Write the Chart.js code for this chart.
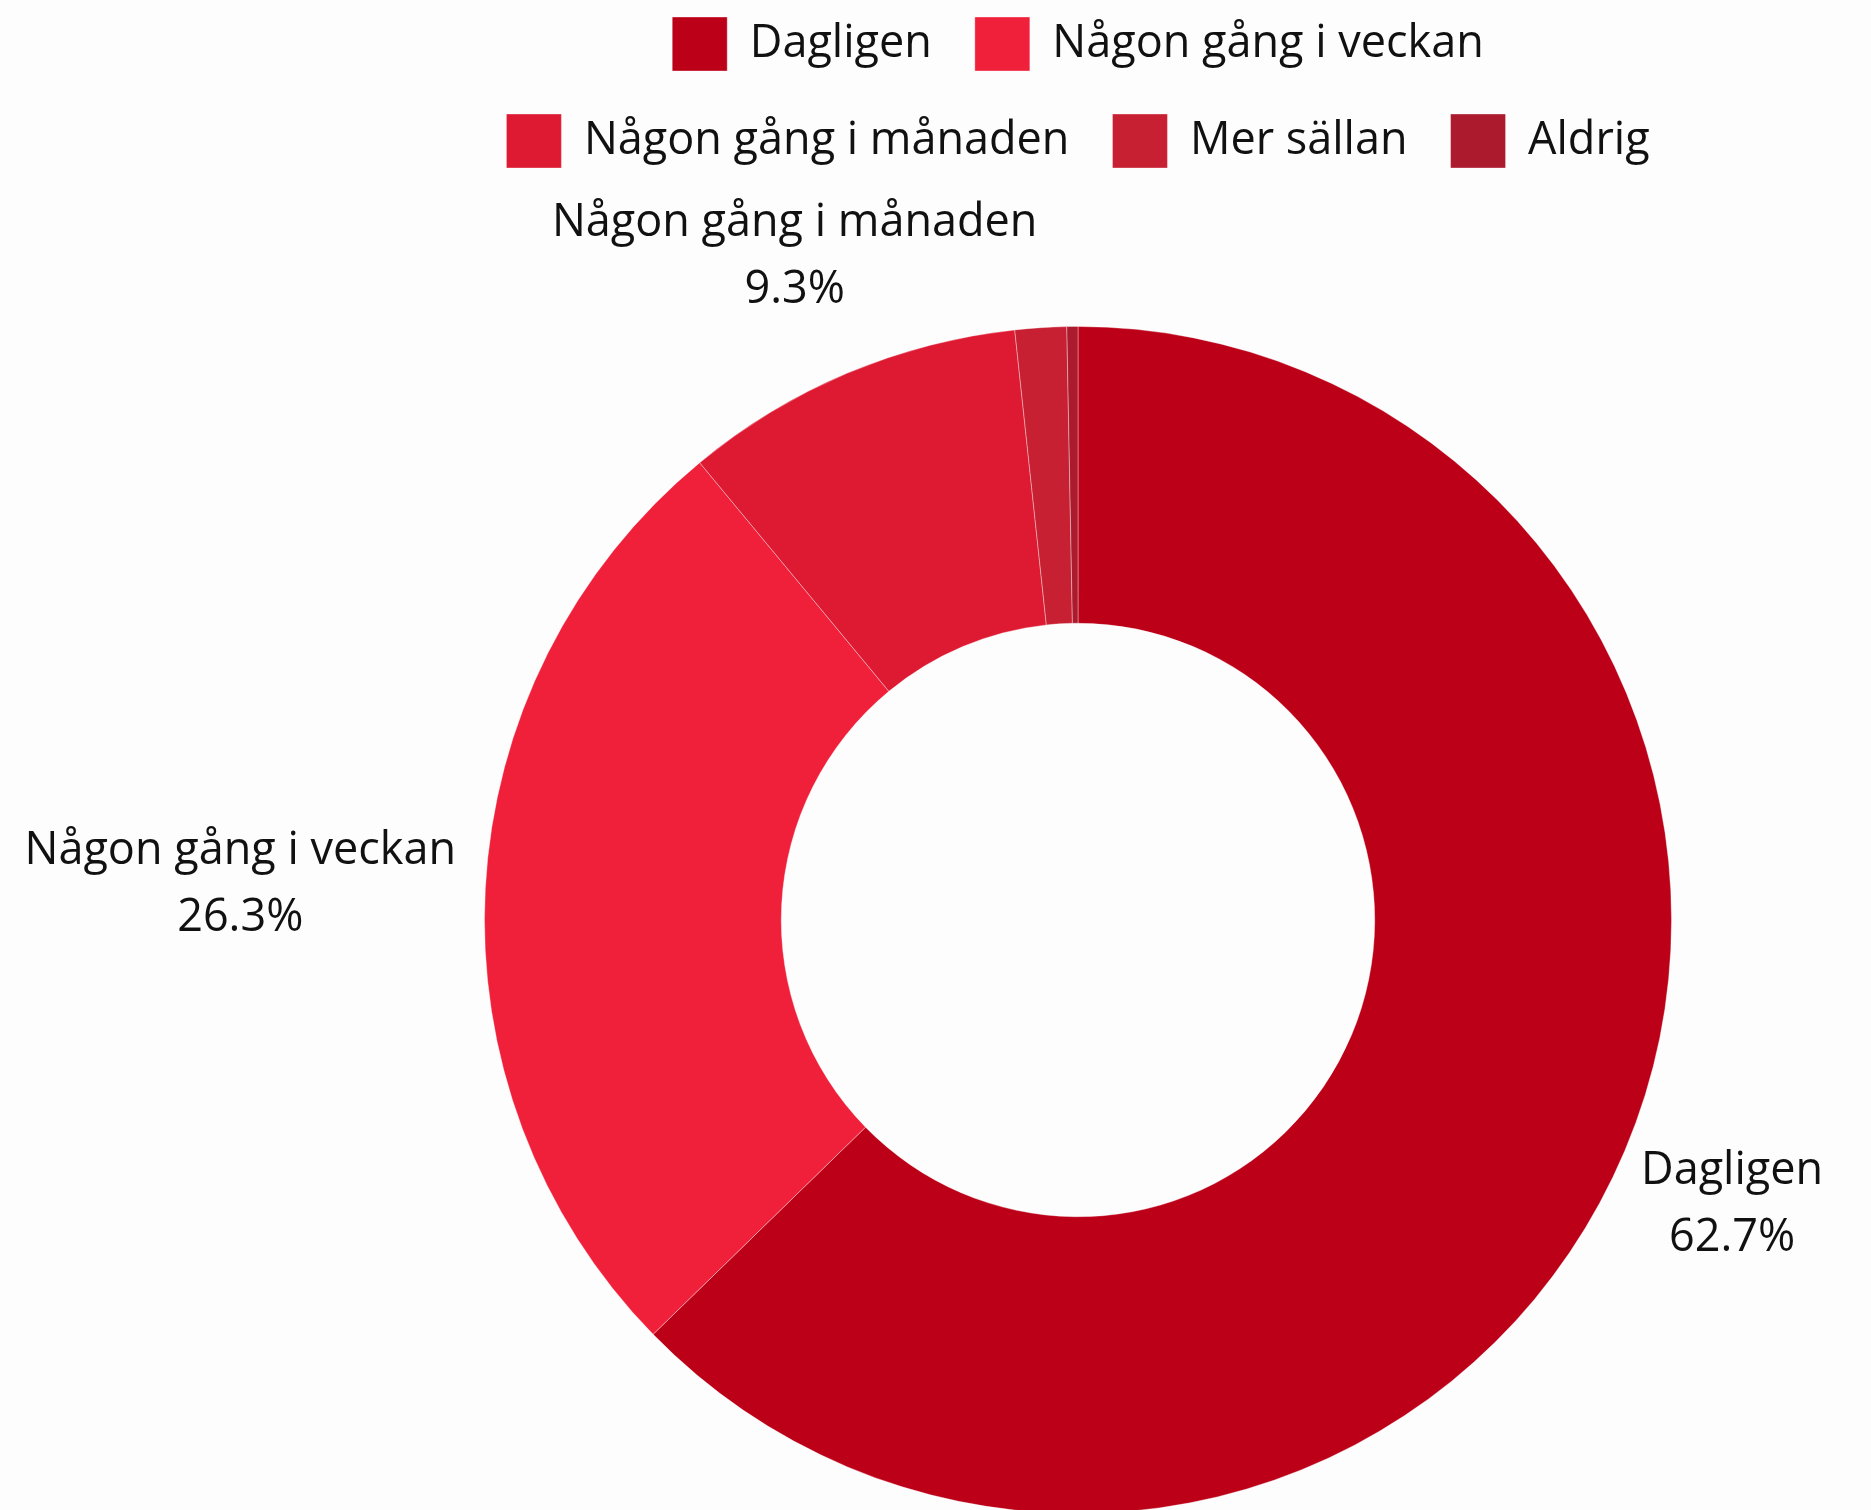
<!DOCTYPE html>
<html>
<head>
<meta charset="utf-8">
<script src="https://cdn.jsdelivr.net/npm/chart.js@4"></script>
<style>
  html, body { margin: 0; padding: 0; background: #fdfdfd; overflow: hidden; }
  #wrap { position: absolute; left: 0; top: -26px; width: 1871px; height: 1540px; }
</style>
</head>
<body>
<div id="wrap"><canvas id="frequencyChart"></canvas></div>
<script>
const categories = ['Dagligen', 'Någon gång i veckan', 'Någon gång i månaden', 'Mer sällan', 'Aldrig'];
const shares = [62.7, 26.3, 9.3, 1.4, 0.3];
const sliceColors = ['#bc0018', '#f01f3a', '#de1a33', '#c82033', '#ab1a2d'];

// only the bigger slices get a label outside the ring
const labelMin = 5;

// legend sits further away from the ring
const legendGap = {
  id: 'legendGap',
  beforeInit(chart) {
    const fit = chart.legend.fit;
    chart.legend.fit = function () {
      fit.bind(chart.legend)();
      this.height += 148;
    };
  }
};

const outsideLabels = {
  id: 'outsideLabels',
  afterDatasetsDraw(chart) {
    const ctx = chart.ctx;
    const meta = chart.getDatasetMeta(0);
    const lineH = 67;
    const gap = 30;
    ctx.save();
    ctx.font = '45px "Open Sans"';
    ctx.fillStyle = '#111';
    ctx.textAlign = 'center';
    ctx.textBaseline = 'middle';
    meta.data.forEach((arc, i) => {
      const v = shares[i];
      if (v < labelMin) return;
      const lines = [categories[i], v.toFixed(1) + '%'];
      const hw = Math.max(...lines.map(t => ctx.measureText(t).width)) / 2;
      const hh = lineH * lines.length / 2 - 15;
      const mid = (arc.startAngle + arc.endAngle) / 2;
      const c = Math.cos(mid), s = Math.sin(mid);
      const t = Math.sqrt((hw * c) ** 2 + (hh * s) ** 2);
      const r = arc.outerRadius + gap + t;
      const cx = arc.x + c * r;
      const cy = arc.y + s * r + 9;
      lines.forEach((txt, k) => {
        ctx.fillText(txt, cx, cy + (k - (lines.length - 1) / 2) * lineH);
      });
    });
    ctx.restore();
  }
};

const ctx = document.getElementById('frequencyChart').getContext('2d');
new Chart(ctx, {
  type: 'doughnut',
  data: {
    labels: categories,
    datasets: [{
      data: shares,
      backgroundColor: sliceColors,
      borderColor: 'rgba(255,255,255,0.35)',
      borderWidth: 1,
      hoverOffset: 0
    }]
  },
  options: {
    responsive: true,
    maintainAspectRatio: false,
    animation: false,
    cutout: '50%',
    layout: { padding: { left: 403, right: 118, top: 0, bottom: 0 } },
    plugins: {
      legend: {
        position: 'top',
        labels: {
          boxWidth: 55,
          boxHeight: 54,
          padding: 43,
          color: '#111',
          font: { family: '"Open Sans"', size: 45 }
        }
      },
      tooltip: { enabled: false }
    }
  },
  plugins: [legendGap, outsideLabels]
});
</script>
</body>
</html>
